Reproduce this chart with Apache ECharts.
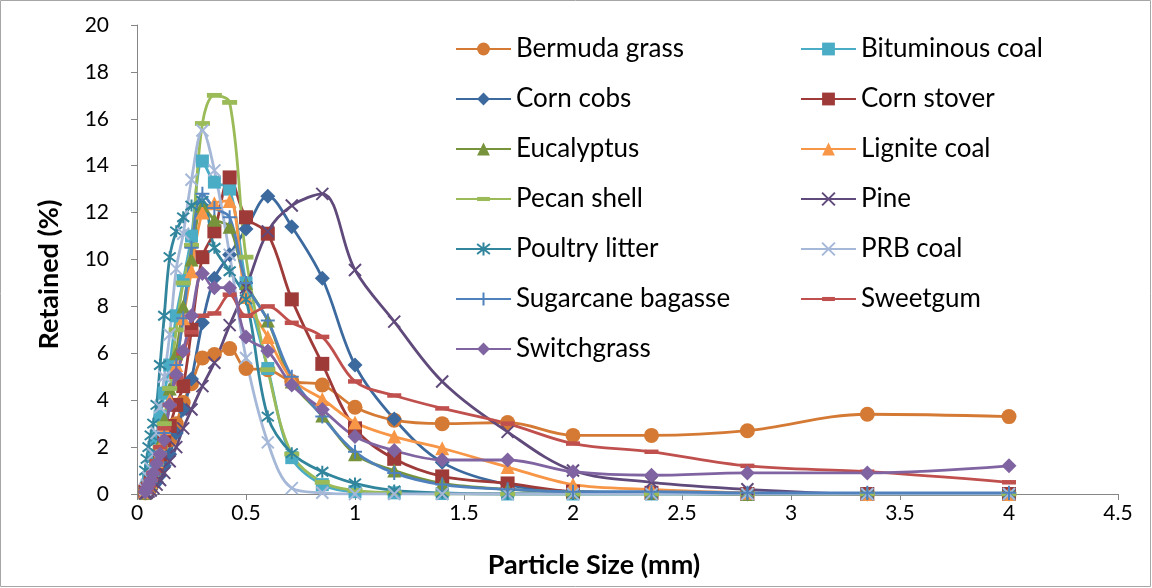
<!DOCTYPE html>
<html>
<head>
<meta charset="utf-8">
<script src="https://cdn.jsdelivr.net/npm/echarts@6/dist/echarts.min.js"></script>
<style>
  html, body { margin: 0; padding: 0; background: #ffffff; }
  #chart { width: 1152px; height: 588px; }
</style>
</head>
<body>
<div id="chart"></div>
<script>
// Sieve opening sizes (mm)
const sizes = [0.038, 0.045, 0.053, 0.063, 0.075, 0.09, 0.106, 0.125, 0.15, 0.18, 0.212, 0.25,
  0.3, 0.355, 0.425, 0.5, 0.6, 0.71, 0.85, 1.0, 1.18, 1.4, 1.7, 2.0, 2.36, 2.8, 3.35, 4.0];

// Mass retained on each sieve (%)
const bermudaGrass     = [0.05, 0.1, 0.2, 0.3, 0.5, 0.8, 1.1, 1.6, 2.3, 3.0, 3.9, 4.7, 5.8, 5.95, 6.2, 5.35, 5.3, 4.8, 4.65, 3.7, 3.15, 3.0, 3.05, 2.5, 2.5, 2.7, 3.4, 3.3];
const bituminousCoal   = [0.1, 0.3, 0.6, 1.0, 1.6, 2.4, 3.3, 4.3, 5.5, 7.6, 9.1, 11.0, 14.2, 13.3, 13.0, 9.0, 5.35, 1.55, 0.4, 0.1, 0.05, 0.02, 0, 0, 0, 0, 0, 0];
const cornCobs         = [0.05, 0.1, 0.15, 0.2, 0.35, 0.5, 0.8, 1.2, 1.7, 2.6, 3.6, 4.9, 7.3, 9.2, 10.2, 11.3, 12.7, 11.4, 9.2, 5.5, 3.2, 1.35, 0.4, 0.1, 0.05, 0, 0, 0];
const cornStover       = [0.1, 0.2, 0.3, 0.5, 0.8, 1.2, 1.7, 2.3, 2.9, 3.8, 4.6, 7.0, 10.1, 11.2, 13.5, 11.8, 11.1, 8.3, 5.55, 2.8, 1.5, 0.75, 0.45, 0.1, 0.05, 0, 0, 0];
const eucalyptus       = [0.05, 0.15, 0.3, 0.5, 0.9, 1.5, 2.2, 3.2, 4.5, 6.0, 8.0, 10.0, 12.3, 11.7, 11.4, 9.0, 7.4, 4.8, 3.35, 1.7, 1.0, 0.45, 0.2, 0.1, 0.05, 0, 0, 0];
const ligniteCoal      = [0.1, 0.2, 0.3, 0.5, 0.9, 1.4, 2.0, 2.8, 4.0, 5.5, 7.5, 9.5, 12.0, 12.4, 12.5, 8.4, 6.7, 4.9, 4.05, 3.05, 2.45, 1.95, 1.15, 0.4, 0.2, 0.05, 0, 0];
const pecanShell       = [0.1, 0.2, 0.3, 0.5, 0.8, 1.3, 2.0, 3.0, 4.5, 7.0, 9.0, 10.6, 15.8, 17.0, 16.7, 10.1, 5.3, 1.7, 0.5, 0.15, 0.05, 0, 0, 0, 0, 0, 0, 0];
const pine             = [0.02, 0.05, 0.1, 0.15, 0.25, 0.4, 0.6, 0.9, 1.4, 2.0, 2.8, 3.6, 4.6, 5.6, 7.2, 8.8, 11.2, 12.3, 12.8, 9.55, 7.35, 4.8, 2.65, 1.0, 0.5, 0.2, 0, 0];
const poultryLitter    = [1.0, 1.5, 2.0, 2.5, 3.0, 3.8, 5.5, 7.6, 10.1, 11.2, 11.8, 12.3, 12.5, 10.5, 9.5, 8.3, 3.3, 1.74, 0.95, 0.45, 0.15, 0.05, 0, 0, 0, 0, 0, 0];
const prbCoal          = [0.2, 0.4, 0.7, 1.1, 1.7, 2.6, 3.7, 5.0, 6.8, 9.6, 11.1, 13.4, 15.5, 13.8, 10.2, 5.8, 2.2, 0.25, 0.05, 0, 0, 0, 0, 0, 0, 0, 0, 0];
const sugarcaneBagasse = [0.1, 0.2, 0.3, 0.5, 0.8, 1.2, 1.8, 2.6, 3.8, 5.5, 7.5, 10.5, 12.8, 12.2, 11.8, 9.0, 7.4, 5.0, 3.3, 1.8, 0.9, 0.4, 0.2, 0.1, 0.1, 0.05, 0.05, 0.05];
const sweetgum         = [0.1, 0.2, 0.35, 0.6, 0.9, 1.4, 2.0, 2.8, 3.8, 5.0, 6.0, 6.9, 7.6, 7.7, 8.5, 7.6, 8.0, 7.3, 6.7, 4.8, 4.2, 3.65, 3.0, 2.15, 1.8, 1.2, 0.95, 0.5];
const switchgrass      = [0.1, 0.25, 0.4, 0.6, 0.9, 1.3, 1.7, 2.3, 3.8, 5.1, 6.1, 7.6, 9.4, 8.8, 8.8, 6.7, 6.1, 4.65, 3.6, 2.45, 1.85, 1.45, 1.45, 0.95, 0.8, 0.9, 0.9, 1.2];

// Axis ranges
const xRange = { min: 0, max: 4.5, step: 0.5 };
const yRange = { min: 0, max: 20, step: 2 };

// Marker shapes (the dash keeps a square bounding box so it scales the same in the legend)
const CROSS = 'path://M0,0L10,10M10,0L0,10';
const PLUS = 'path://M5,0L5,10M0,5L10,5';
const STAR = 'path://M0,0L10,10M10,0L0,10M5,-1.5L5,11.5';
const DASH = 'path://M0,0M10,10M0,3.4L10,3.4L10,6.6L0,6.6Z';

const seriesDefs = [
  { name: 'Bermuda grass',     values: bermudaGrass,     color: '#D47A34', symbol: 'circle',   size: 15 },
  { name: 'Bituminous coal',   values: bituminousCoal,   color: '#4BACC6', symbol: 'rect',     size: 13 },
  { name: 'Corn cobs',         values: cornCobs,         color: '#3C6A9F', symbol: 'diamond',  size: 15 },
  { name: 'Corn stover',       values: cornStover,       color: '#9E3A38', symbol: 'rect',     size: 14 },
  { name: 'Eucalyptus',        values: eucalyptus,       color: '#77933C', symbol: 'triangle', size: 14 },
  { name: 'Lignite coal',      values: ligniteCoal,      color: '#F79646', symbol: 'triangle', size: 14 },
  { name: 'Pecan shell',       values: pecanShell,       color: '#9BBB59', symbol: DASH,       size: 15 },
  { name: 'Pine',              values: pine,             color: '#604A7B', symbol: CROSS,      size: 12, stroke: true },
  { name: 'Poultry litter',    values: poultryLitter,    color: '#31859C', symbol: STAR,       size: 12, stroke: true },
  { name: 'PRB coal',          values: prbCoal,          color: '#A5B8D8', symbol: CROSS,      size: 12, stroke: true },
  { name: 'Sugarcane bagasse', values: sugarcaneBagasse, color: '#4F81BD', symbol: PLUS,       size: 14, stroke: true },
  { name: 'Sweetgum',          values: sweetgum,         color: '#C0504D', symbol: DASH,       size: 14 },
  { name: 'Switchgrass',       values: switchgrass,      color: '#8064A2', symbol: 'diamond',  size: 15 }
];

const FONT = 'Lato, "Open Sans", sans-serif';

const series = seriesDefs.map(d => ({
  name: d.name,
  type: 'line',
  smooth: 0.35,
  data: sizes.map((x, i) => [x, d.values[i]]),
  symbol: d.symbol,
  symbolSize: d.size,
  showAllSymbol: true,
  lineStyle: { color: d.color, width: 2.8 },
  itemStyle: {
    color: d.stroke ? 'rgba(0,0,0,0)' : d.color,
    borderColor: d.color,
    borderWidth: d.stroke ? 2 : 0
  },
  emphasis: { disabled: true },
  animation: false
}));

const legendCommon = {
  orient: 'vertical',
  top: 36,
  padding: 0,
  itemWidth: 55,
  itemHeight: 16,
  itemGap: 24,
  textStyle: { fontFamily: FONT, fontSize: 26, color: '#000', lineHeight: 26 },
  selectedMode: false
};

const option = {
  backgroundColor: '#ffffff',
  animation: false,
  grid: { left: 137, right: 34, top: 25, bottom: 94 },
  xAxis: {
    type: 'value',
    min: xRange.min, max: xRange.max, interval: xRange.step,
    name: 'Particle Size (mm)',
    nameLocation: 'middle',
    nameGap: 58,
    nameTextStyle: { fontFamily: FONT, fontSize: 27, fontWeight: 'bold', color: '#000', padding: [0, 67, 0, 0] },
    axisLine: { lineStyle: { color: '#868686', width: 1 } },
    axisTick: { show: true, inside: false, length: 6, lineStyle: { color: '#868686' } },
    axisLabel: { fontFamily: FONT, fontSize: 21, color: '#000', margin: 9 },
    splitLine: { show: false }
  },
  yAxis: {
    type: 'value',
    min: yRange.min, max: yRange.max, interval: yRange.step,
    name: 'Retained (%)',
    nameLocation: 'middle',
    nameGap: 74,
    nameTextStyle: { fontFamily: FONT, fontSize: 27, fontWeight: 'bold', color: '#000', padding: [0, 30, 0, 0] },
    axisLine: { show: true, lineStyle: { color: '#868686', width: 1 } },
    axisTick: { show: true, inside: false, length: 6, lineStyle: { color: '#868686' } },
    axisLabel: { fontFamily: FONT, fontSize: 21, color: '#000', margin: 28 },
    splitLine: { show: false }
  },
  legend: [
    Object.assign({}, legendCommon, {
      left: 455,
      data: ['Bermuda grass', 'Corn cobs', 'Eucalyptus', 'Pecan shell', 'Poultry litter', 'Sugarcane bagasse', 'Switchgrass']
    }),
    Object.assign({}, legendCommon, {
      left: 800,
      data: ['Bituminous coal', 'Corn stover', 'Lignite coal', 'Pine', 'PRB coal', 'Sweetgum']
    })
  ],
  graphic: [{
    type: 'rect',
    silent: true,
    shape: { x: 0.5, y: 0.5, width: 1150, height: 586 },
    style: { fill: 'none', stroke: '#A6A6A6', lineWidth: 1 }
  }],
  series: series
};

const chart = echarts.init(document.getElementById('chart'), null, { renderer: 'canvas' });
chart.setOption(option);
</script>
</body>
</html>
